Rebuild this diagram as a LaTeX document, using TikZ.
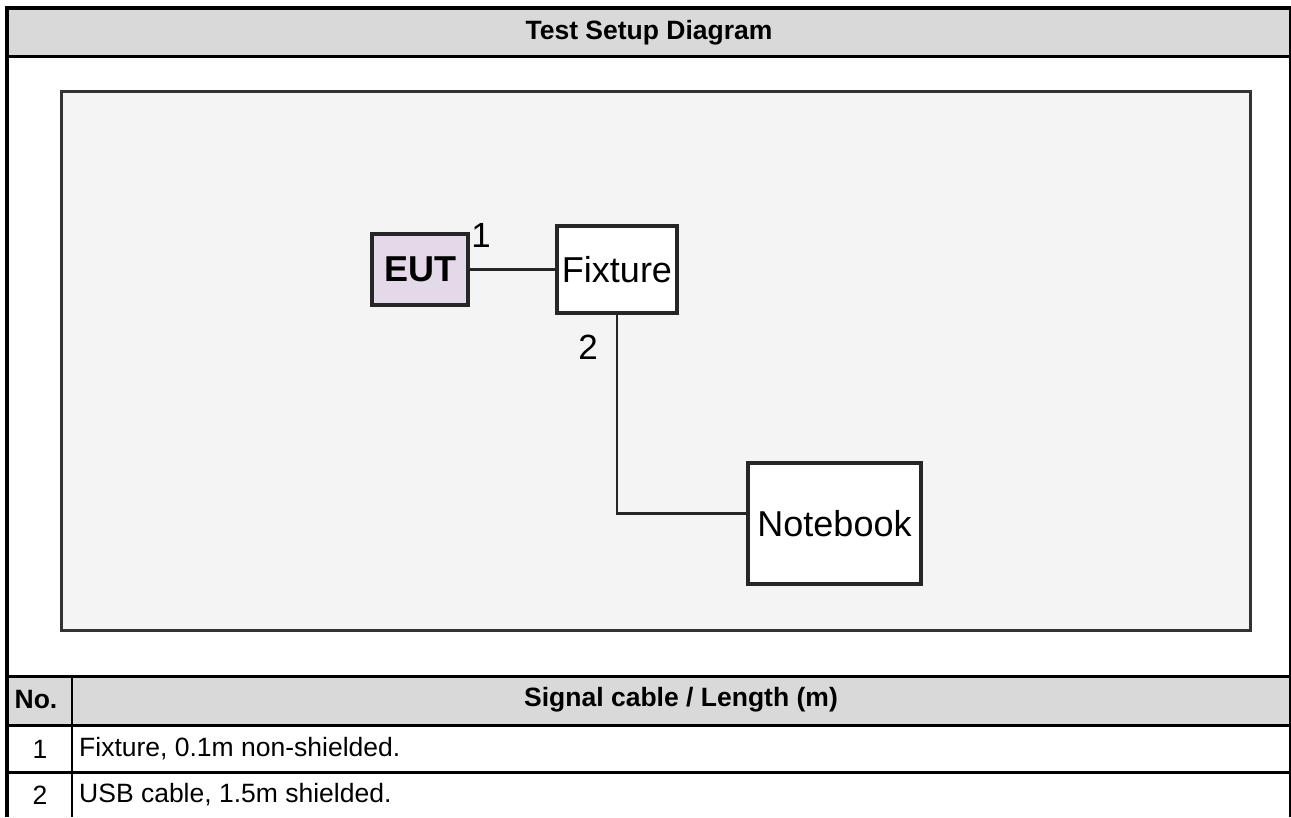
\documentclass[tikz,border=0pt]{standalone}
\usepackage{fontspec}
\setmainfont{Liberation Sans}
\usepackage{tikz}
\definecolor{hdrgray}{HTML}{D9D9D9}
\definecolor{boardgray}{HTML}{F4F4F4}
\definecolor{eutpurple}{HTML}{E4D9E8}
\begin{document}
\begin{tikzpicture}[x=1pt, y=-1pt,
	unit/.style={draw=black!85, line width=3.2pt, inner sep=0pt, font=\fontsize{36}{40}\selectfont},
	cable/.style={black!85, line width=2.6pt},
	cell/.style={inner sep=0pt, font=\fontsize{26.5}{30}\selectfont}]
	\useasboundingbox (0,0) rectangle (1291,817);
	\fill[white] (0,0) rectangle (1291,817);
	\fill[hdrgray] (7,10) rectangle (1290,56);
	\fill[hdrgray] (7,677) rectangle (1290,724);
	\foreach \y in {56.5,676.5,725,772}
		\draw[line width=3pt] (7,\y) -- (1290,\y);
	\draw[line width=2pt] (72,676) -- (72,817);
	\draw[line width=2pt] (1290,8) -- (1290,817);
	\draw[line width=4.5pt] (5,8) -- (1291,8);
	\draw[line width=4.5pt] (7,6) -- (7,817);
	\node[cell, font=\fontsize{26.5}{30}\selectfont\bfseries] (title) at (649,33) {Test Setup Diagram};
	\node[cell, font=\fontsize{26.5}{30}\selectfont\bfseries] (hdno) at (36,700) {No.};
	\node[cell, font=\fontsize{26.5}{30}\selectfont\bfseries] (hdcable) at (681,700) {Signal cable / Length (m)};
	\foreach \n/\y/\txt in {1/749/{Fixture, 0.1m non-shielded.}, 2/795/{USB cable, 1.5m shielded.}} {
		\node[cell] (no\n) at (40,\y) {\n};
		\node[cell, anchor=west] (cab\n) at (79,\y) {\txt};
	}
	\draw[draw=black!80, fill=boardgray, line width=3pt] (61,91.5) rectangle (1250,630);
	\node[unit, fill=eutpurple, minimum width=96pt, minimum height=71pt, font=\fontsize{36}{40}\selectfont\bfseries] (eut) at (420,269.5) {EUT};
	\node[unit, fill=white, minimum width=120pt, minimum height=87pt] (fix) at (617,269.5) {Fixture};
	\node[unit, fill=white, minimum width=173pt, minimum height=121pt] (nb) at (834.5,523.5) {Notebook};
	\draw[cable] (eut.east) -- (fix.west);
	\draw[cable] (fix.south) |- ([yshift=10pt]nb.west);
	\node[inner sep=0pt, font=\fontsize{35}{40}\selectfont] (lab1) at (481,235) {1};
	\node[inner sep=0pt, font=\fontsize{35}{40}\selectfont] (lab2) at (588,347) {2};
\end{tikzpicture}
\end{document}
